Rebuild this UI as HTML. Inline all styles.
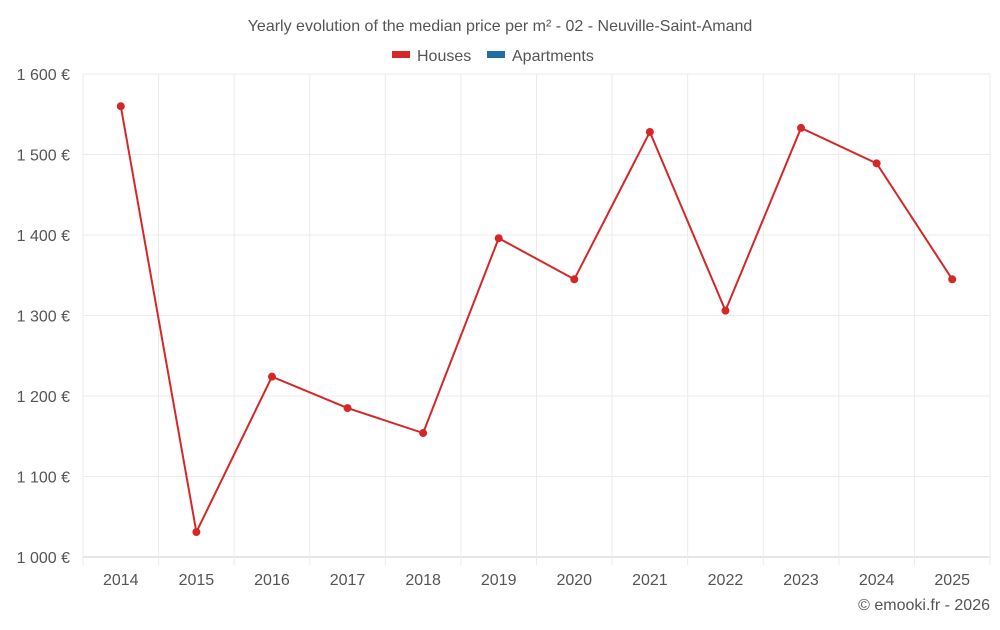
<!DOCTYPE html>
<html><head><meta charset="utf-8"><style>
body{margin:0;background:#fff;font-family:"Liberation Sans",sans-serif;}
svg text{font-family:"Liberation Sans",sans-serif;}
</style></head><body>
<svg id="c" width="1000" height="625">
<text x="500" y="31" text-anchor="middle" font-size="16" fill="#555">Yearly evolution of the median price per m² - 02 - Neuville-Saint-Amand</text>
<g><rect x="392" y="51" width="18" height="7" fill="#d62728"/><text x="417" y="61" font-size="16" fill="#555">Houses</text></g>
<g><rect x="487" y="51" width="18" height="7" fill="#1f6ea8"/><text x="512" y="61" font-size="16" fill="#555">Apartments</text></g>
<g id="grid"></g><g id="axes"></g><g id="series"></g>
<text x="990" y="610" text-anchor="end" font-size="16" fill="#555">© emooki.fr - 2026</text>
</svg>
<script>
const years=["2014","2015","2016","2017","2018","2019","2020","2021","2022","2023","2024","2025"];
const houses=[1560,1031,1224,1185,1154,1396,1345,1528,1306,1533,1489,1345];
const yTicks=[1000,1100,1200,1300,1400,1500,1600];
const yLabels=["1 000 €","1 100 €","1 200 €","1 300 €","1 400 €","1 500 €","1 600 €"];
const L=83,R=990,T=74,B=557,yMin=1000,yMax=1600;
const ns="http://www.w3.org/2000/svg";
const step=(R-L)/years.length;
const X=i=>L+step*(i+0.5);
const Y=v=>B-(v-yMin)/(yMax-yMin)*(B-T);
function mk(t,a,p){const e=document.createElementNS(ns,t);for(const k in a)e.setAttribute(k,a[k]);p.appendChild(e);return e;}
const g=document.getElementById('grid'),ax=document.getElementById('axes'),s=document.getElementById('series');
yTicks.forEach((v,i)=>{
 const ln=mk('line',{x1:L,x2:R,y1:Y(v),y2:Y(v),stroke:i==0?'#ccc':'#ebebeb'},g);
 
 
 const t=mk('text',{x:70,y:Y(v)+6,'text-anchor':'end','font-size':16,fill:'#555'},ax);
 t.textContent=yLabels[i];
 
 
});
for(let i=0;i<=years.length;i++){
 const ln=mk('line',{x1:L+step*i,x2:L+step*i,y1:T,y2:B+8,stroke:'#ebebeb'},g);
 
 
}
years.forEach((y,i)=>{
 const t=mk('text',{x:X(i),y:585,'text-anchor':'middle','font-size':16,fill:'#555'},ax);
 t.textContent=y;
 
 
});
const pl=mk('polyline',{points:houses.map((v,i)=>X(i)+','+Y(v)).join(' '),fill:'none',stroke:'#d62728','stroke-width':2},s);


houses.forEach((v,i)=>{
 const c=mk('circle',{cx:X(i),cy:Y(v),r:4,fill:'#d62728'},s);
 
 
});
</script>
</body></html>
